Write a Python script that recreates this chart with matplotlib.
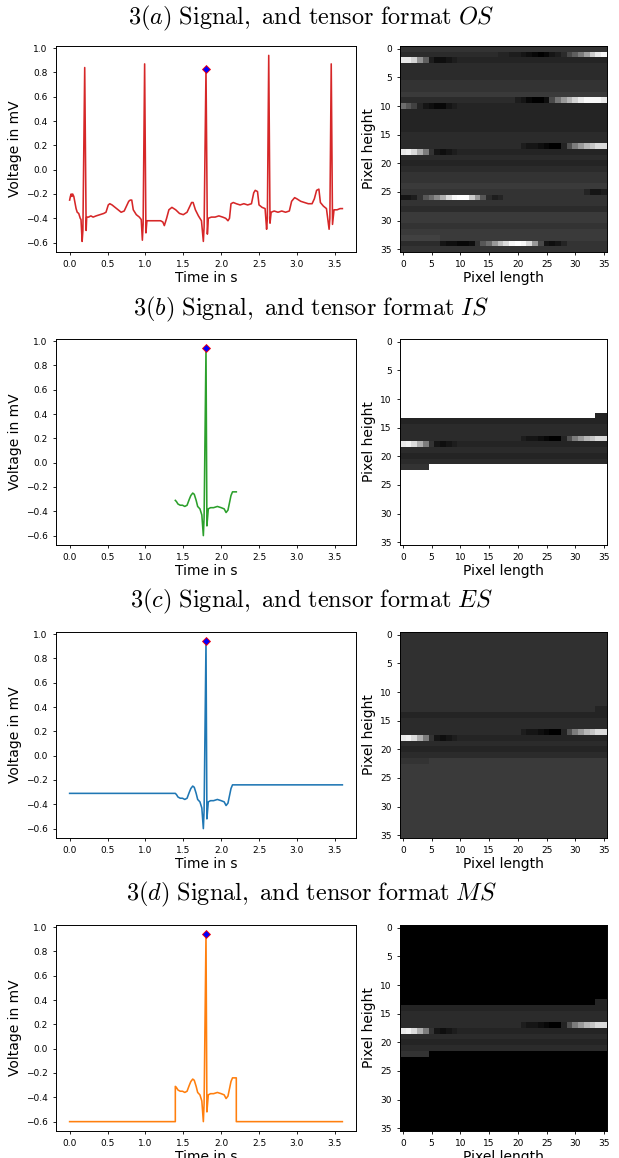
# ECG signal and its 36x36 tensor formats (OS, IS, ES, MS), four rows of signal + image
import numpy as np
import matplotlib
matplotlib.use("Agg")
import matplotlib.pyplot as plt

plt.rcParams["mathtext.fontset"] = "cm"

# original signal (OS), vertices: time in s, voltage in mV
OS_T = [0.000, 0.010, 0.020, 0.030, 0.040, 0.055, 0.070, 0.085, 0.100, 0.120,
        0.140, 0.150, 0.165, 0.175, 0.199, 0.218, 0.225, 0.250, 0.280, 0.310,
        0.350, 0.400, 0.450, 0.480, 0.510, 0.530, 0.560, 0.600, 0.640, 0.680,
        0.720, 0.750, 0.780, 0.800, 0.820, 0.840, 0.880, 0.920, 0.945, 0.960,
        0.970, 0.990, 1.007, 1.020, 1.060, 1.100, 1.150, 1.200, 1.230, 1.250,
        1.280, 1.310, 1.350, 1.400, 1.450, 1.500, 1.550, 1.580, 1.610, 1.630,
        1.660, 1.700, 1.740, 1.765, 1.775, 1.800, 1.818, 1.830, 1.870, 1.920,
        1.970, 2.020, 2.060, 2.090, 2.110, 2.130, 2.160, 2.200, 2.250, 2.300,
        2.350, 2.400, 2.430, 2.450, 2.480, 2.500, 2.540, 2.580, 2.600, 2.610,
        2.628, 2.645, 2.660, 2.700, 2.750, 2.800, 2.850, 2.900, 2.930, 2.970,
        3.000, 3.050, 3.100, 3.150, 3.200, 3.230, 3.260, 3.290, 3.310, 3.350,
        3.390, 3.425, 3.435, 3.453, 3.470, 3.490, 3.530, 3.570, 3.600]
OS_V = [-0.25, -0.22, -0.20, -0.22, -0.20, -0.22, -0.27, -0.32, -0.35, -0.36,
        -0.40, -0.41, -0.59, -0.50, 0.84, -0.50, -0.39, -0.39, -0.38, -0.39,
        -0.38, -0.37, -0.36, -0.35, -0.29, -0.28, -0.29, -0.31, -0.33, -0.35,
        -0.34, -0.30, -0.26, -0.25, -0.25, -0.33, -0.37, -0.39, -0.41, -0.58,
        -0.45, 0.87, -0.52, -0.42, -0.42, -0.42, -0.42, -0.42, -0.43, -0.46,
        -0.40, -0.33, -0.31, -0.33, -0.36, -0.37, -0.35, -0.31, -0.27, -0.27,
        -0.33, -0.38, -0.42, -0.59, -0.47, 0.83, -0.53, -0.40, -0.39, -0.39,
        -0.38, -0.39, -0.40, -0.42, -0.40, -0.28, -0.27, -0.28, -0.29, -0.28,
        -0.29, -0.28, -0.19, -0.17, -0.18, -0.29, -0.31, -0.32, -0.49, -0.40,
        0.94, -0.44, -0.35, -0.34, -0.35, -0.34, -0.35, -0.34, -0.26, -0.23,
        -0.24, -0.26, -0.27, -0.28, -0.28, -0.24, -0.17, -0.16, -0.27, -0.30,
        -0.32, -0.49, -0.40, 0.87, -0.45, -0.33, -0.33, -0.32, -0.32]

# isolated beat around the marked R peak (used by IS, ES and MS)
BEAT_T = [1.395, 1.410, 1.430, 1.460, 1.490, 1.520, 1.550, 1.580, 1.600, 1.625,
          1.645, 1.670, 1.690, 1.720, 1.745, 1.765, 1.775, 1.800, 1.812, 1.830,
          1.860, 1.900, 1.950, 2.000, 2.040, 2.065, 2.090, 2.110, 2.130, 2.150,
          2.200]
BEAT_V = [-0.31, -0.32, -0.34, -0.35, -0.35, -0.36, -0.35, -0.30, -0.27, -0.25,
          -0.26, -0.31, -0.36, -0.38, -0.43, -0.60, -0.45, 0.94, -0.52, -0.38,
          -0.37, -0.37, -0.36, -0.37, -0.38, -0.41, -0.39, -0.33, -0.27, -0.24,
          -0.24]

PEAK_T = 1.8
SIGNAL_START = 0.0
SIGNAL_END = 3.6
MS_FILL = -0.6

# OS tensor, 36 rows of 36 gray levels (base-36 digit, 0 = black, z = white)
OS_IMAGE = [
    "7" * 36,
    "6" * 17 + "5544" + "32101" + "346" + "adhmswy",
    "wwtkd42234" + "5" * 26,
    "6" * 36,
    "6" * 36,
    "6" * 36,
    "7" * 36,
    "7" * 36,
    "8" * 36,
    "6" * 20 + "431002" + "aglptwyyyw",
    "fc95321134" + "5" * 26,
    "5" * 36,
    "5" * 36,
    "5" * 36,
    "5" * 36,
    "6" * 36,
    "6" * 36,
    "6" * 21 + "4332100" + "5bhlpruu",
    "wxuoh73234" + "5" * 26,
    "6" * 36,
    "5" * 36,
    "6" * 36,
    "7" * 36,
    "7" * 36,
    "8" * 36,
    "7" * 32 + "5334",
    "3347cfjouyzzslc645" + "7" * 18,
    "7" * 36,
    "6" * 36,
    "8" * 36,
    "8" * 36,
    "7" * 36,
    "8" * 36,
    "9" * 7 + "8" * 29,
    "6" * 7 + "322112" + "7cflquyzyula3235" + "7" * 7,
    "7" * 36,
]
# flat pixel range of the beat window, and ES fill levels before / after it
WIN_START, WIN_STOP = 502, 797
ES_FILL_BEFORE = 0.19
ES_FILL_AFTER = 0.23

LETTERS = ["a", "b", "c", "d"]
FORMATS = ["OS", "IS", "ES", "MS"]
COLORS = ["tab:red", "tab:green", "tab:blue", "tab:orange"]

# --- build the four signals ---
es_t = [SIGNAL_START] + BEAT_T + [SIGNAL_END]
es_v = [BEAT_V[0]] + BEAT_V + [BEAT_V[-1]]
ms_t = [SIGNAL_START, BEAT_T[0]] + BEAT_T + [BEAT_T[-1], SIGNAL_END]
ms_v = [MS_FILL, MS_FILL] + BEAT_V + [MS_FILL, MS_FILL]
signals = [(OS_T, OS_V), (BEAT_T, BEAT_V), (es_t, es_v), (ms_t, ms_v)]
peaks = [OS_V[OS_T.index(PEAK_T)]] + [BEAT_V[BEAT_T.index(PEAK_T)]] * 3

# --- build the four tensors ---
os_img = np.array([[int(c, 36) for c in row] for row in OS_IMAGE]) / 35.0
flat = os_img.flatten()
is_flat = np.full(flat.size, np.nan)
is_flat[WIN_START:WIN_STOP] = flat[WIN_START:WIN_STOP]
es_flat = flat.copy()
es_flat[:WIN_START] = ES_FILL_BEFORE
es_flat[WIN_STOP:] = ES_FILL_AFTER
ms_flat = np.zeros(flat.size)
ms_flat[WIN_START:WIN_STOP] = flat[WIN_START:WIN_STOP]
images = [os_img] + [f.reshape(36, 36) for f in (is_flat, es_flat, ms_flat)]

W, H = 619, 1158
fig = plt.figure(figsize=(W / 100, H / 100), dpi=100)

row_tops = [46, 339, 632, 925]
title_ys = [18, 309, 601, 894]
ax_h = 206

for i in range(4):
    top = row_tops[i]
    bottom = 1 - (top + ax_h) / H

    fig.text(0.503, 1 - title_ys[i] / H,
             r"$3(%s)\ \mathrm{Signal,\ and\ tensor\ format}\ %s$" % (LETTERS[i], FORMATS[i]),
             ha="center", va="center", fontsize=17.5)

    ax = fig.add_axes([56 / W, bottom, 300 / W, ax_h / H])
    t, v = signals[i]
    ax.plot(t, v, color=COLORS[i], lw=1.15)
    ax.plot([PEAK_T], [peaks[i]], "D", mfc="blue", mec="red", ms=4, mew=0.6)
    ax.set_xlim(-0.18, 3.78)
    ax.set_ylim(-0.677, 1.017)
    ax.set_xticks(np.arange(0, 3.51, 0.5))
    ax.set_yticks(np.arange(-0.6, 1.01, 0.2))
    ax.set_xlabel("Time in s", fontsize=10, labelpad=1)
    ax.set_ylabel("Voltage in mV", fontsize=10, labelpad=3)
    ax.tick_params(labelsize=6.5, length=2.5, width=0.6)
    for s in ax.spines.values():
        s.set_linewidth(0.7)

    axi = fig.add_axes([400 / W, bottom, 207 / W, ax_h / H])
    axi.imshow(images[i], cmap="gray", vmin=0, vmax=1, aspect="auto",
               interpolation="nearest")
    axi.set_xticks(range(0, 36, 5))
    axi.set_yticks(range(0, 36, 5))
    axi.set_xlabel("Pixel length", fontsize=10, labelpad=1)
    axi.set_ylabel("Pixel height", fontsize=10, labelpad=3)
    axi.tick_params(labelsize=6.5, length=2.5, width=0.6)
    for s in axi.spines.values():
        s.set_linewidth(0.7)

fig.savefig("out.png", dpi=100)
